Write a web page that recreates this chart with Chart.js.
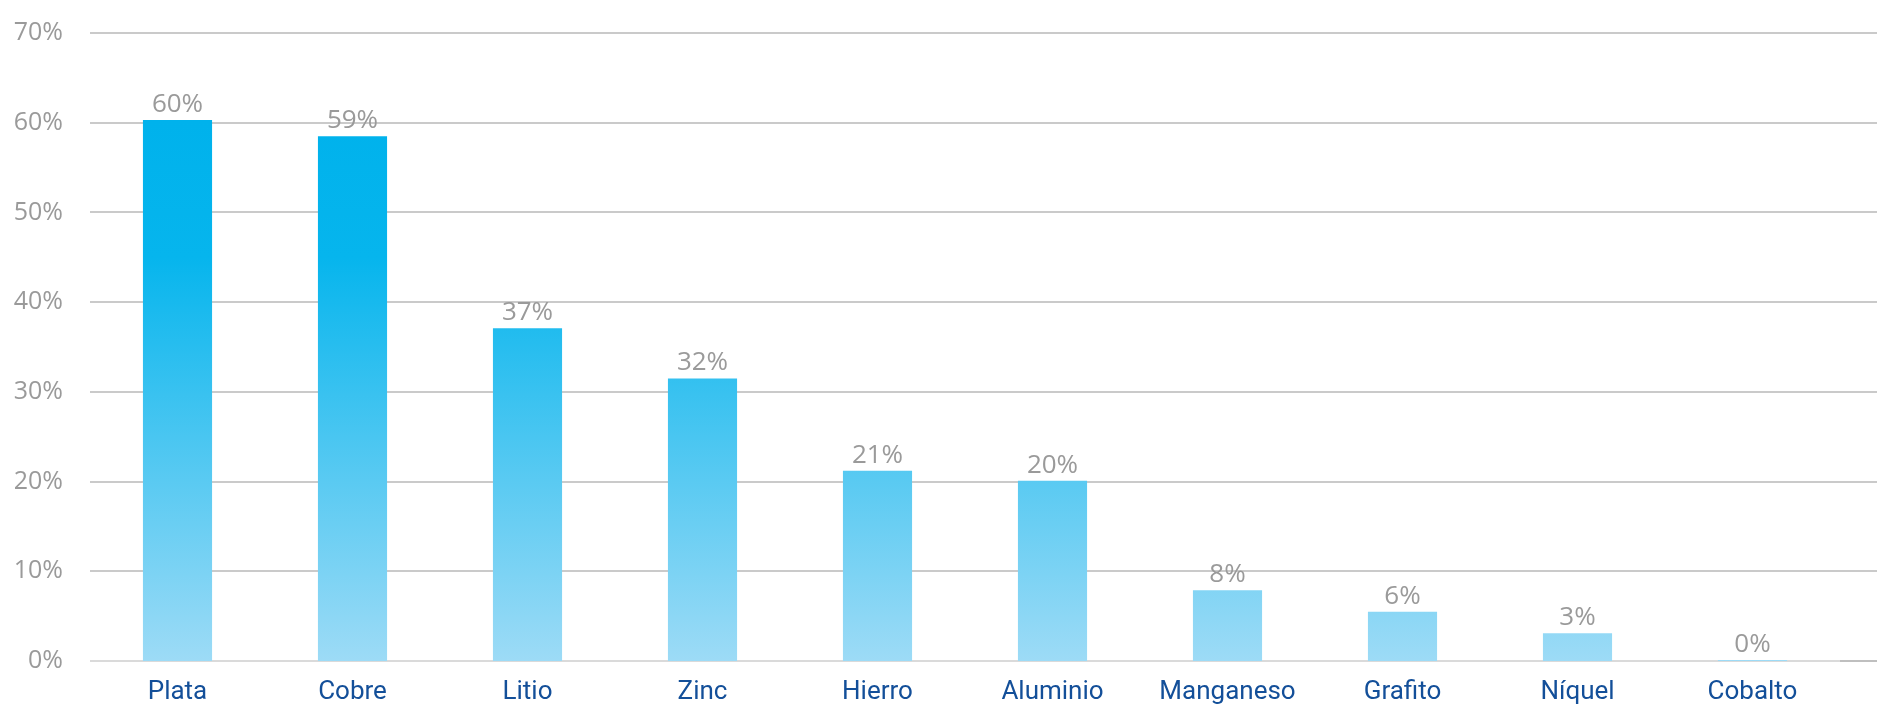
<!DOCTYPE html>
<html>
<head>
<meta charset="utf-8">
<script src="https://cdn.jsdelivr.net/npm/chart.js@4"></script>
<style>
  body { margin: 0; background: #fff; }
  #wrap { width: 1877px; height: 708px; position: relative; }
</style>
</head>
<body>
<div id="wrap"><canvas id="mineralChart"></canvas></div>
<script>
// Data
const minerals = ["Plata", "Cobre", "Litio", "Zinc", "Hierro", "Aluminio", "Manganeso", "Grafito", "Níquel", "Cobalto"];
const shares = [60.3, 58.5, 37.1, 31.5, 21.2, 20.1, 7.9, 5.5, 3.1, 0.1];
const yTicks = [0, 10, 20, 30, 40, 50, 60, 70];

// Gradient tied to the value scale, deep blue at the top, pale at zero
function barGradient(c) {
  const chart = c.chart;
  const y = chart.scales.y;
  if (!chart.chartArea || !y) return "#00B2EC";
  const top = y.getPixelForValue(60), bottom = y.getPixelForValue(0);
  if (!isFinite(top) || !isFinite(bottom)) return "#00B2EC";
  const g = chart.ctx.createLinearGradient(0, top, 0, bottom);
  g.addColorStop(0, "#00B2EC");
  g.addColorStop(0.25, "#06B5ED");
  g.addColorStop(1, "#9DDBF6");
  return g;
}

// Gridlines run past the category area up to the right edge
const gridPlugin = {
  id: "gridPlugin",
  beforeDatasetsDraw(chart) {
    const { ctx, chartArea, scales } = chart;
    ctx.save();
    ctx.lineWidth = 2;
    yTicks.forEach(v => {
      const py = Math.round(scales.y.getPixelForValue(v));
      if (v === 0) {
        ctx.strokeStyle = "#DADADA";
        ctx.beginPath(); ctx.moveTo(chartArea.left, py); ctx.lineTo(chartArea.right, py); ctx.stroke();
        ctx.strokeStyle = "#BFBFBF";
        ctx.beginPath(); ctx.moveTo(chartArea.right, py); ctx.lineTo(chart.width, py); ctx.stroke();
      } else {
        ctx.strokeStyle = "#CACACA";
        ctx.beginPath(); ctx.moveTo(chartArea.left, py); ctx.lineTo(chart.width, py); ctx.stroke();
      }
    });
    ctx.restore();
  }
};

// Value labels above each bar
const labelPlugin = {
  id: "labelPlugin",
  afterDatasetsDraw(chart) {
    const { ctx } = chart;
    const meta = chart.getDatasetMeta(0);
    ctx.save();
    ctx.font = "26px 'Open Sans'";
    ctx.fillStyle = "#9A9A9A";
    ctx.textAlign = "center";
    ctx.textBaseline = "alphabetic";
    meta.data.forEach((bar, i) => {
      ctx.fillText(Math.round(shares[i]) + "%", bar.x, bar.y - 8);
    });
    ctx.restore();
  }
};

const ctx = document.getElementById("mineralChart").getContext("2d");
new Chart(ctx, {
  type: "bar",
  data: {
    labels: minerals,
    datasets: [{
      data: shares,
      backgroundColor: barGradient,
      barPercentage: 0.395,
      categoryPercentage: 1.0
    }]
  },
  options: {
    responsive: true,
    maintainAspectRatio: false,
    animation: false,
    layout: { padding: { top: 33, right: 37, left: 0, bottom: 0 } },
    plugins: {
      legend: { display: false },
      tooltip: { enabled: false }
    },
    scales: {
      x: {
        grid: { display: false, drawTicks: false },
        border: { display: false },
        ticks: {
          color: "#134F99",
          font: { family: "Roboto", size: 26 },
          padding: 16,
          maxRotation: 0
        },
        afterFit(scale) { scale.height = 47; }
      },
      y: {
        min: 0,
        max: 70,
        grid: { display: false, drawTicks: false },
        border: { display: false },
        afterBuildTicks(scale) { scale.ticks = yTicks.map(v => ({ value: v })); },
        ticks: {
          color: "#9A9A9A",
          font: { family: "Open Sans", size: 25 },
          padding: 27,
          callback: v => v + "%"
        },
        afterFit(scale) {
          scale.width = 90;
          scale.paddingTop = 0;
          scale.paddingBottom = 0;
        }
      }
    }
  },
  plugins: [gridPlugin, labelPlugin]
});
</script>
</body>
</html>
